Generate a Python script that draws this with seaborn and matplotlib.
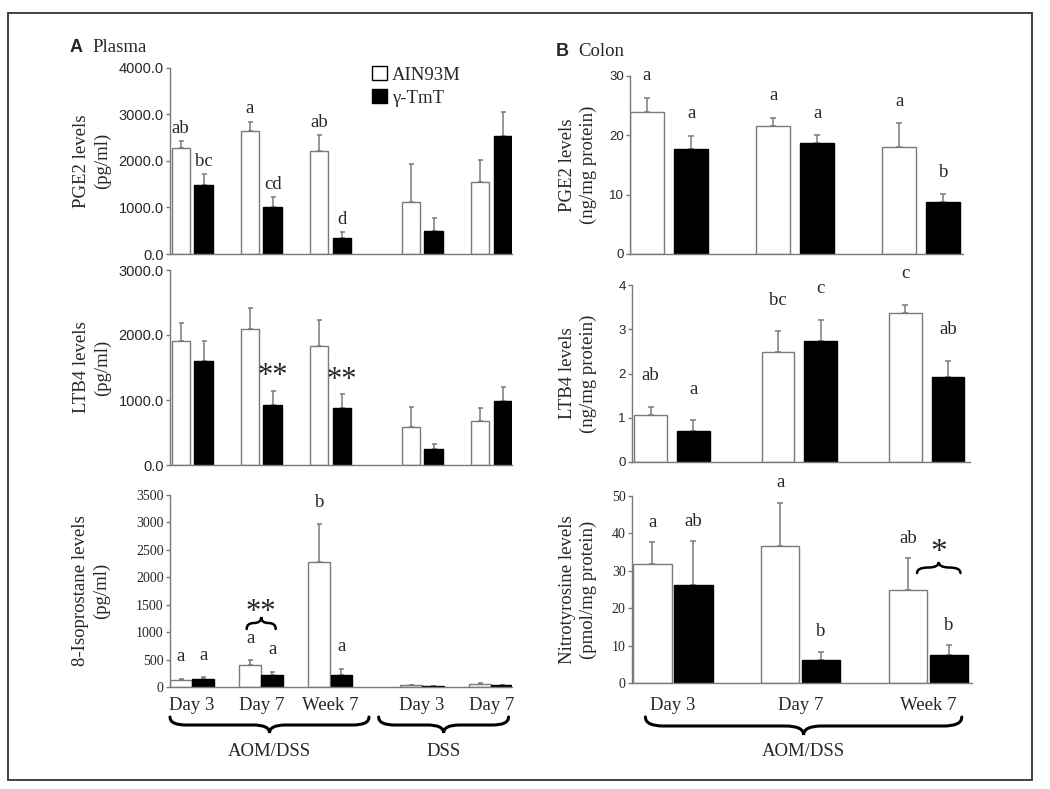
import matplotlib
matplotlib.use("Agg")
import matplotlib.pyplot as plt
from matplotlib.patches import PathPatch, Rectangle
from matplotlib.path import Path
import numpy as np
import pandas as pd
import seaborn as sns

diets = ["AIN93M", "γ-TmT"]

plasma_pos = [0, 1, 2, 3.33, 4.33]
plasma_days = ["Day 3", "Day 7", "Week 7", "Day 3", "Day 7"]
colon_pos = [0, 1, 2]
colon_days = ["Day 3", "Day 7", "Week 7"]

# A: plasma (pg/ml)
pge2_p_ain = [2280, 2640, 2220, 1110, 1540]
pge2_p_ain_sem = [140, 200, 330, 830, 475]
pge2_p_tmt = [1480, 1020, 340, 500, 2530]
pge2_p_tmt_sem = [240, 200, 130, 265, 515]
pge2_p_marks = ["ab", "a", "ab", "", "", "bc", "cd", "d", "", ""]

ltb4_p_ain = [1910, 2100, 1830, 580, 680]
ltb4_p_ain_sem = [280, 320, 400, 307, 192]
ltb4_p_tmt = [1605, 925, 872, 251, 990]
ltb4_p_tmt_sem = [303, 219, 215, 72, 215]
ltb4_p_marks = ["", "", "", "", "", "", "**", "**", "", ""]

iso_p_ain = [130, 408, 2270, 30, 55]
iso_p_ain_sem = [20, 80, 694, 7, 12]
iso_p_tmt = [140, 225, 213, 18, 30]
iso_p_tmt_sem = [35, 50, 122, 4, 5]
iso_p_marks = ["a", "a", "b", "", "", "a", "a", "a", "", ""]

# B: colon
pge2_c_ain = [24.0, 21.6, 18.1]
pge2_c_ain_sem = [2.3, 1.4, 3.9]
pge2_c_tmt = [17.7, 18.65, 8.76]
pge2_c_tmt_sem = [2.2, 1.4, 1.3]
pge2_c_marks = ["a", "a", "a", "a", "a", "b"]

ltb4_c_ain = [1.06, 2.49, 3.37]
ltb4_c_ain_sem = [0.19, 0.46, 0.18]
ltb4_c_tmt = [0.70, 2.73, 1.92]
ltb4_c_tmt_sem = [0.24, 0.49, 0.37]
ltb4_c_marks = ["ab", "bc", "c", "a", "c", "ab"]

nitro_c_ain = [31.9, 36.7, 25.0]
nitro_c_ain_sem = [5.7, 11.5, 8.4]
nitro_c_tmt = [26.3, 6.1, 7.6]
nitro_c_tmt_sem = [11.6, 2.2, 2.5]
nitro_c_marks = ["a", "a", "ab", "ab", "b", "b"]

GRAY = "#7a7a7a"
SERIF = "Liberation Serif"
SANS = "Liberation Sans"

sns.set_style("ticks")
plt.rcParams["font.family"] = [SERIF, "DejaVu Serif"]

W, H = 1050, 789
fig = plt.figure(figsize=(W / 100, H / 100), dpi=100)


def px_axes(x0, y0, x1, y1):
    # axes from pixel box (top-left origin)
    return fig.add_axes([x0 / W, 1 - y1 / H, (x1 - x0) / W, (y1 - y0) / H])


def panel(ax, pos, ain, tmt, ain_sem, tmt_sem, marks, width, gap, xlim, yticks,
          fmt, tickfont, ticksize, ylabel, label_x, mark_off, capsize):
    n = len(pos)
    df = pd.DataFrame({"pos": pos + pos,
                       "diet": [diets[0]] * n + [diets[1]] * n,
                       "level": ain + tmt})
    sns.barplot(data=df, x="pos", y="level", hue="diet", hue_order=diets,
                palette=["white", "black"], native_scale=True, orient="x",
                width=width, gap=gap, errorbar=None, saturation=1,
                linewidth=1, edgecolor=GRAY, legend=False, ax=ax)
    bars = ax.patches[:2 * n]
    for b in bars[n:]:
        b.set_edgecolor("black")
    sems = ain_sem + tmt_sem
    xc = [b.get_x() + b.get_width() / 2 for b in bars]
    tops = [b.get_height() for b in bars]
    ax.errorbar(xc, tops, yerr=[np.zeros(2 * n), sems], fmt="none", ecolor=GRAY,
                elinewidth=1.1, capsize=capsize, capthick=1.1, zorder=0.5)
    for x, t, s, m in zip(xc, tops, sems, marks):
        if not m:
            continue
        if "*" in m:
            ax.annotate(m, (x, t + s), xytext=(0, mark_off * 0.72 - 2),
                        textcoords="offset points", ha="center", va="center",
                        fontsize=22)
        else:
            ax.annotate(m, (x, t + s), xytext=(0, mark_off * 0.72),
                        textcoords="offset points", ha="center", va="center",
                        fontsize=13.5)
    ax.set_xlim(*xlim)
    ax.set_ylim(yticks[0], yticks[-1])
    ax.set_yticks(yticks)
    ax.set_yticklabels([fmt.format(v) for v in yticks], family=tickfont,
                       fontsize=ticksize)
    ax.set_xticks(pos)
    ax.set_xticklabels([])
    ax.tick_params(axis="x", length=0)
    ax.tick_params(axis="y", length=3, width=1, color=GRAY, pad=1.5)
    ax.set_xlabel("")
    ax.set_ylabel(ylabel, fontsize=13.5, linespacing=1.3, va="center")
    ax.yaxis.set_label_coords(label_x, 0.5)
    sns.despine(ax=ax)
    for s in ["left", "bottom"]:
        ax.spines[s].set_color(GRAY)
        ax.spines[s].set_linewidth(1)


def brace(p0, p1, h, up, lw=2.0):
    (x0, y0), (x1, _) = p0, p1
    d = h if up else -h
    xm = (x0 + x1) / 2
    q = min(h, (x1 - x0) / 4)
    mid = y0 + d / 2
    verts = [(x0, y0), (x0, mid), (x0 + q, mid), (xm - q, mid), (xm, mid),
             (xm, y0 + d), (xm, mid), (xm + q, mid), (x1 - q, mid), (x1, mid),
             (x1, y0)]
    codes = [Path.MOVETO, Path.CURVE3, Path.CURVE3, Path.LINETO, Path.CURVE3,
             Path.CURVE3, Path.CURVE3, Path.CURVE3, Path.LINETO, Path.CURVE3,
             Path.CURVE3]
    verts = fig.transFigure.inverted().transform(verts)
    fig.add_artist(PathPatch(Path(verts, codes), fill=False, lw=lw, ec="black",
                             transform=fig.transFigure, capstyle="round"))


def group_brace(ax, x0, x1, below, h, text, text_below):
    p0 = ax.transData.transform((x0, 0)) - (0, below)
    p1 = ax.transData.transform((x1, 0)) - (0, below)
    brace(p0, p1, h, up=False, lw=2.2)
    ax.annotate(text, ((x0 + x1) / 2, 0), xytext=(0, -text_below * 0.72),
                textcoords="offset points", ha="center", va="center",
                fontsize=13.5, annotation_clip=False)


def inline_brace(ax, x0, x1, y, h, star, star_px, size):
    p0 = ax.transData.transform((x0, y))
    p1 = ax.transData.transform((x1, y))
    brace(p0, p1, h, up=True, lw=1.8)
    ax.annotate(star, ((x0 + x1) / 2, y), xytext=(0, star_px * 0.72),
                textcoords="offset points", ha="center", va="center",
                fontsize=size, annotation_clip=False)


plasma_xlim = (-0.32, 4.63)

# ---- A Plasma ----
ax1 = px_axes(170, 68, 512, 254)
panel(ax1, plasma_pos, pge2_p_ain, pge2_p_tmt, pge2_p_ain_sem, pge2_p_tmt_sem,
      pge2_p_marks, 0.66, 0.2, plasma_xlim, [0, 1000, 2000, 3000, 4000],
      "{:.1f}", SANS, 10.5, "PGE2 levels\n(pg/ml)", -0.228, 13, 1.8)
handles = [Rectangle((0, 0), 1, 1, fc="white", ec="black", lw=1),
           Rectangle((0, 0), 1, 1, fc="black", ec="black", lw=1)]
ax1.legend(handles, diets, loc="upper left", bbox_to_anchor=(0.57, 1.05),
           frameon=False, fontsize=13.5, handlelength=0.75, handleheight=0.75,
           handletextpad=0.3, labelspacing=0.3, borderaxespad=0)

ax2 = px_axes(170, 270, 512, 465)
panel(ax2, plasma_pos, ltb4_p_ain, ltb4_p_tmt, ltb4_p_ain_sem, ltb4_p_tmt_sem,
      ltb4_p_marks, 0.66, 0.2, plasma_xlim, [0, 1000, 2000, 3000],
      "{:.1f}", SANS, 10.5, "LTB4 levels\n(pg/ml)", -0.228, 17, 1.8)

ax3 = px_axes(170, 495, 512, 687)
panel(ax3, plasma_pos, iso_p_ain, iso_p_tmt, iso_p_ain_sem, iso_p_tmt_sem,
      iso_p_marks, 0.64, 0.02, plasma_xlim,
      [0, 500, 1000, 1500, 2000, 2500, 3000, 3500],
      "{:.0f}", SERIF, 10, "8-Isoprostane levels\n(pg/ml)", -0.232, 22, 1.8)
ax3.set_xticklabels(plasma_days, fontsize=13.5)
ax3.tick_params(axis="x", pad=7)
inline_brace(ax3, 0.79, 1.21, 1057, 12, "**", 17, 22)
group_brace(ax3, -0.32, 2.56, 30, 16, "AOM/DSS", 65)
group_brace(ax3, 2.70, 4.58, 30, 16, "DSS", 65)

# ---- B Colon ----
ax4 = px_axes(630, 76, 963, 254)
panel(ax4, colon_pos, pge2_c_ain, pge2_c_tmt, pge2_c_ain_sem, pge2_c_tmt_sem,
      pge2_c_marks, 0.70, 0.23, (-0.31, 2.33), [0, 10, 20, 30],
      "{:.0f}", SANS, 9.5, "PGE2 levels\n(ng/mg protein)", -0.156, 22, 2.5)

ax5 = px_axes(632, 285, 970, 462)
panel(ax5, colon_pos, ltb4_c_ain, ltb4_c_tmt, ltb4_c_ain_sem, ltb4_c_tmt_sem,
      ltb4_c_marks, 0.67, 0.23, (-0.313, 2.34), [0, 1, 2, 3, 4],
      "{:.0f}", SANS, 9.5, "LTB4 levels\n(ng/mg protein)", -0.160, 31, 2.5)

ax6 = px_axes(632, 496, 972, 683)
panel(ax6, colon_pos, nitro_c_ain, nitro_c_tmt, nitro_c_ain_sem, nitro_c_tmt_sem,
      nitro_c_marks, 0.64, 0.06, (-0.32, 2.34), [0, 10, 20, 30, 40, 50],
      "{:.0f}", SERIF, 10, "Nitrotyrosine levels\n(pmol/mg protein)", -0.159, 20, 2.5)
ax6.set_xticklabels(colon_days, fontsize=13.5)
ax6.tick_params(axis="x", pad=10)
inline_brace(ax6, 1.91, 2.25, 29.4, 11, "*", 20, 24)
group_brace(ax6, -0.215, 2.26, 34, 18, "AOM/DSS", 69)

# panel titles
fig.text(70 / W, 1 - 47 / H, "A", family=SANS, weight="bold", fontsize=13,
         va="center")
fig.text(92 / W, 1 - 47 / H, "Plasma", fontsize=13.5, va="center")
fig.text(556 / W, 1 - 52 / H, "B", family=SANS, weight="bold", fontsize=13,
         va="center")
fig.text(578 / W, 1 - 52 / H, "Colon", fontsize=13.5, va="center")

# outer frame
fig.add_artist(Rectangle((8 / W, 1 - 780 / H), 1024 / W, 767 / H, fill=False,
                         lw=1.3, ec="#333333", transform=fig.transFigure))

fig.savefig("out.png", dpi=100)
